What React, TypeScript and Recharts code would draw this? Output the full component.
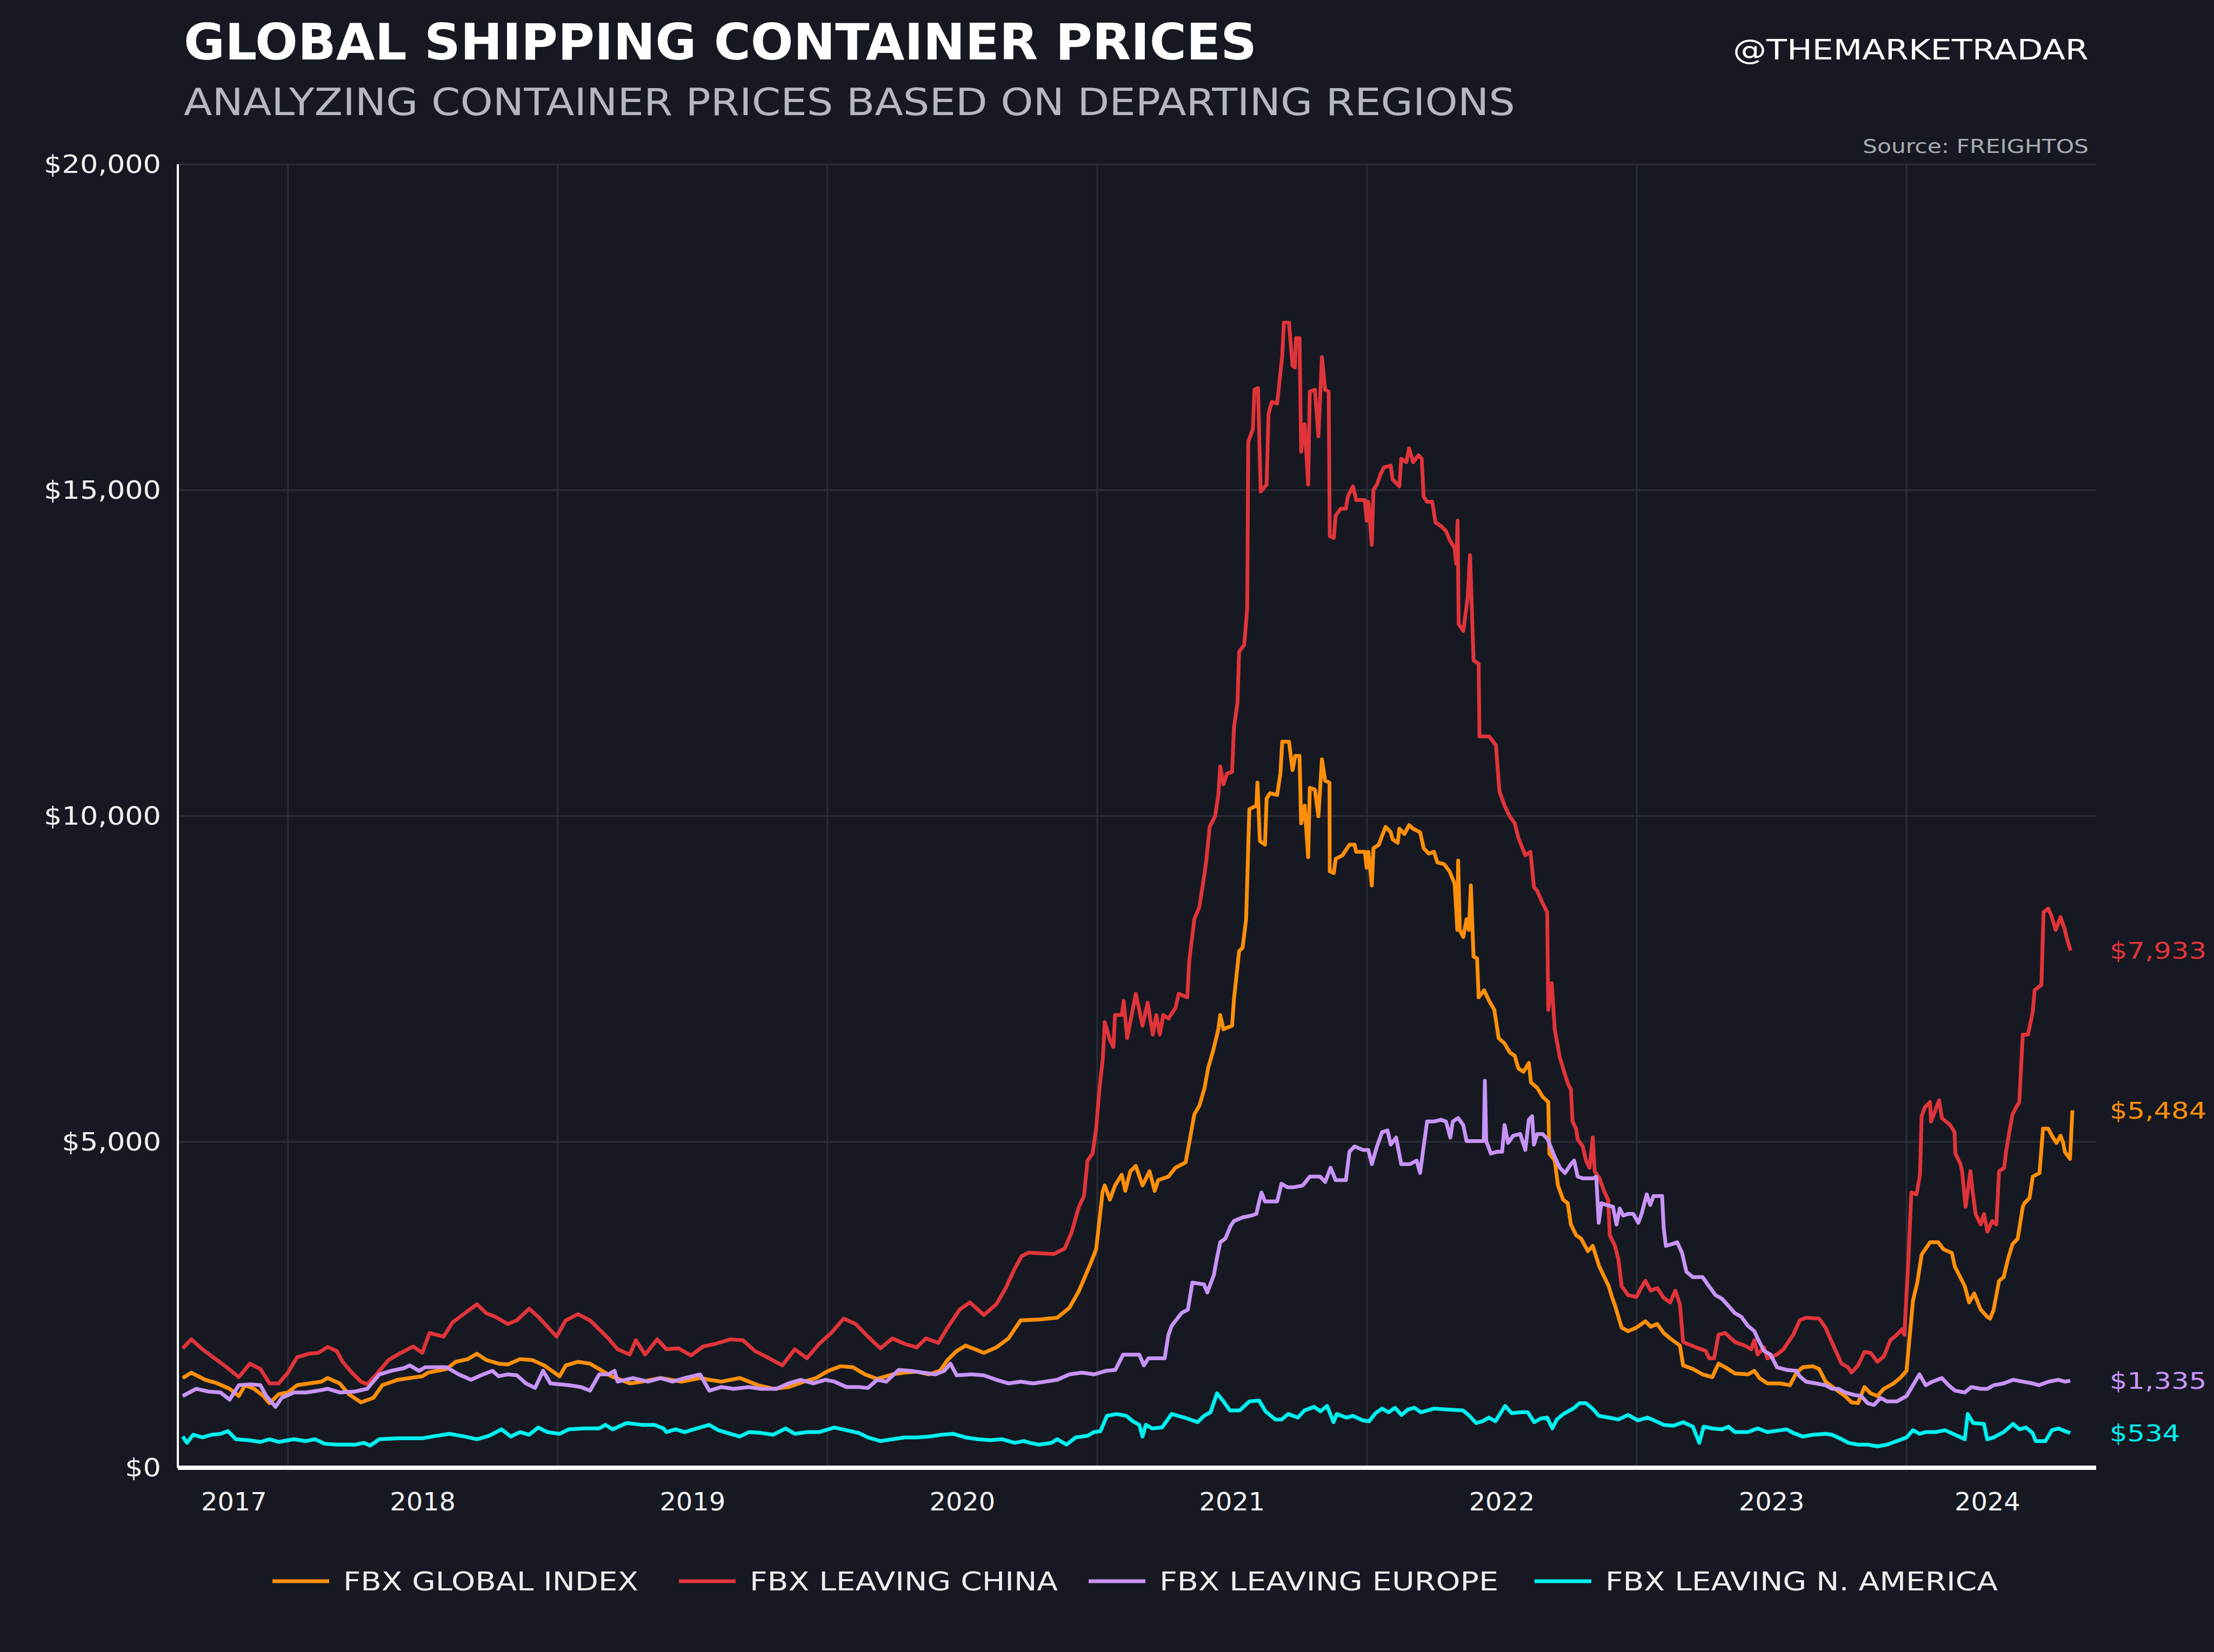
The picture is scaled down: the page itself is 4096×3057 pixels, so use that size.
import React from 'react';
import { LineChart, Line, XAxis, YAxis, CartesianGrid, LabelList } from 'recharts';

// ---------- DATA ----------
const seriesNames = ['FBX GLOBAL INDEX', 'FBX LEAVING CHINA', 'FBX LEAVING EUROPE', 'FBX LEAVING N. AMERICA'];
const seriesColors = ['#ff8f0a', '#e0343a', '#c794f6', '#00f0f0'];
const yTicks = [0, 5000, 10000, 15000, 20000];
const xTickValues = [2017.8, 2018.5, 2019.5, 2020.5, 2021.5, 2022.5, 2023.5, 2024.3];
const xTickLabels = ['2017', '2018', '2019', '2020', '2021', '2022', '2023', '2024'];
const yearGridValues = [2018, 2019, 2020, 2021, 2022, 2023, 2024];
const xDomain = [2017.592, 2024.703];

// [fractional year, USD per FEU]
const globalIndex = [
  [2017.610,1376],[2017.642,1459],[2017.694,1349],[2017.739,1294],[2017.784,1211],[2017.818,1100],[2017.841,1266],[2017.875,1211],[2017.909,1100],[2017.932,990],[2017.966,1128],
  [2018.000,1155],[2018.034,1266],[2018.079,1294],[2018.124,1321],[2018.147,1376],[2018.192,1294],[2018.226,1128],[2018.271,1003],[2018.317,1072],[2018.350,1266],[2018.407,1349],[2018.452,1376],[2018.498,1404],[2018.520,1459],[2018.588,1515],[2018.622,1625],[2018.667,1666],[2018.701,1749],[2018.735,1653],[2018.781,1597],[2018.815,1584],[2018.860,1666],[2018.905,1653],[2018.950,1570],
  [2019.007,1404],[2019.030,1570],[2019.075,1625],[2019.120,1597],[2019.165,1487],[2019.199,1404],[2019.268,1294],[2019.313,1321],[2019.381,1376],[2019.460,1321],[2019.528,1376],[2019.562,1349],[2019.607,1321],[2019.675,1376],[2019.743,1266],[2019.799,1211],[2019.856,1238],[2019.913,1321],[2019.958,1376],
  [2020.003,1487],[2020.048,1556],[2020.094,1542],[2020.139,1432],[2020.184,1363],[2020.241,1432],[2020.286,1459],[2020.331,1473],[2020.377,1432],[2020.417,1487],[2020.445,1653],[2020.479,1791],[2020.512,1874],[2020.547,1818],[2020.580,1763],[2020.626,1846],[2020.671,1984],[2020.716,2261],[2020.784,2274],[2020.852,2302],[2020.897,2454],[2020.931,2703],[2020.954,2924],[2020.977,3150],[2020.996,3351],
  [2021.008,3786],[2021.020,4236],[2021.028,4331],[2021.047,4113],[2021.066,4331],[2021.091,4495],[2021.104,4249],[2021.123,4549],[2021.143,4631],[2021.168,4331],[2021.194,4549],[2021.213,4249],[2021.226,4413],[2021.264,4467],[2021.290,4603],[2021.328,4685],[2021.341,4985],[2021.360,5421],[2021.379,5557],[2021.398,5829],[2021.411,6129],[2021.430,6401],[2021.449,6728],[2021.456,6946],[2021.468,6728],[2021.500,6782],[2021.507,7191],[2021.526,7926],[2021.539,7981],[2021.552,8416],[2021.564,10105],[2021.590,10159],[2021.594,10513],[2021.603,9615],[2021.622,9560],[2021.628,10268],[2021.641,10350],[2021.667,10323],[2021.679,10650],[2021.686,11140],[2021.711,11140],[2021.724,10704],[2021.734,10922],[2021.750,10922],[2021.756,9887],[2021.769,10159],[2021.782,9369],[2021.788,10432],[2021.807,10404],[2021.820,9996],[2021.833,10868],[2021.845,10541],[2021.861,10513],[2021.862,9152],[2021.877,9124],[2021.884,9342],[2021.909,9397],[2021.935,9560],[2021.954,9560],[2021.960,9451],[2021.992,9451],[2021.999,9206],
  [2022.005,9451],[2022.018,8934],[2022.024,9506],[2022.044,9560],[2022.056,9696],[2022.069,9833],[2022.088,9751],[2022.095,9642],[2022.114,9588],[2022.120,9805],[2022.139,9724],[2022.156,9860],[2022.171,9805],[2022.197,9751],[2022.210,9506],[2022.229,9424],[2022.248,9451],[2022.261,9288],[2022.286,9261],[2022.306,9152],[2022.325,8961],[2022.335,8253],[2022.338,9315],[2022.344,8253],[2022.357,8144],[2022.369,8416],[2022.378,8253],[2022.385,8934],[2022.395,7844],[2022.408,7817],[2022.414,7218],[2022.434,7327],[2022.453,7163],[2022.472,7027],[2022.488,6592],[2022.510,6510],[2022.529,6374],[2022.548,6319],[2022.561,6129],[2022.580,6074],[2022.600,6211],[2022.608,5911],[2022.631,5829],[2022.651,5693],[2022.672,5611],[2022.676,4821],[2022.696,4712],[2022.708,4331],[2022.727,4113],[2022.744,4060],[2022.756,3732],[2022.775,3569],[2022.794,3514],[2022.819,3323],[2022.837,3405],[2022.860,3100],[2022.896,2786],[2022.908,2620],[2022.920,2482],[2022.944,2150],[2022.968,2095],[2022.999,2150],
  [2023.032,2247],[2023.052,2164],[2023.076,2205],[2023.100,2067],[2023.124,1984],[2023.160,1874],[2023.172,1570],[2023.208,1515],[2023.244,1432],[2023.280,1390],[2023.303,1597],[2023.328,1542],[2023.364,1446],[2023.412,1432],[2023.436,1487],[2023.455,1376],[2023.484,1294],[2023.532,1294],[2023.568,1266],[2023.592,1459],[2023.616,1542],[2023.652,1556],[2023.676,1515],[2023.700,1321],[2023.735,1211],[2023.772,1100],[2023.796,1003],[2023.820,990],[2023.844,1238],[2023.867,1142],[2023.892,1100],[2023.916,1211],[2023.952,1294],[2023.976,1376],
  [2024.000,1487],[2024.024,2565],[2024.040,2841],[2024.056,3269],[2024.087,3459],[2024.118,3459],[2024.137,3351],[2024.168,3296],[2024.179,3089],[2024.216,2786],[2024.232,2537],[2024.251,2675],[2024.275,2426],[2024.299,2316],[2024.310,2288],[2024.323,2426],[2024.343,2868],[2024.360,2924],[2024.376,3200],[2024.393,3432],[2024.412,3514],[2024.431,4004],[2024.437,4059],[2024.456,4140],[2024.468,4467],[2024.493,4522],[2024.506,5203],[2024.525,5203],[2024.543,5066],[2024.556,4985],[2024.571,5094],[2024.581,4985],[2024.587,4848],[2024.606,4739],[2024.615,5484],
];

const leavingChina = [
  [2017.610,1832],[2017.642,1970],[2017.683,1818],[2017.728,1680],[2017.773,1542],[2017.818,1390],[2017.859,1597],[2017.898,1515],[2017.932,1294],[2017.966,1294],
  [2018.000,1460],[2018.034,1694],[2018.079,1750],[2018.113,1763],[2018.147,1852],[2018.181,1791],[2018.203,1625],[2018.237,1460],[2018.271,1321],[2018.294,1280],[2018.328,1432],[2018.373,1653],[2018.407,1736],[2018.464,1860],[2018.498,1763],[2018.525,2067],[2018.577,2012],[2018.611,2233],[2018.656,2371],[2018.701,2509],[2018.735,2371],[2018.769,2316],[2018.815,2205],[2018.849,2261],[2018.894,2440],[2018.928,2316],[2018.962,2164],[2018.996,2012],
  [2019.030,2261],[2019.075,2357],[2019.120,2261],[2019.154,2122],[2019.188,1984],[2019.222,1818],[2019.267,1736],[2019.290,1957],[2019.324,1736],[2019.369,1970],[2019.403,1818],[2019.448,1832],[2019.494,1722],[2019.539,1860],[2019.584,1901],[2019.641,1970],[2019.686,1957],[2019.731,1791],[2019.777,1694],[2019.833,1570],[2019.879,1818],[2019.924,1680],[2019.969,1901],
  [2020.014,2067],[2020.060,2288],[2020.105,2205],[2020.150,2012],[2020.196,1832],[2020.241,1984],[2020.286,1901],[2020.331,1846],[2020.365,1984],[2020.411,1915],[2020.445,2150],[2020.490,2426],[2020.528,2537],[2020.580,2343],[2020.626,2509],[2020.660,2750],[2020.693,3044],[2020.720,3248],[2020.745,3300],[2020.840,3280],[2020.880,3366],[2020.906,3623],[2020.932,4004],[2020.951,4168],[2020.964,4712],[2020.983,4821],[2020.996,5203],
  [2021.008,5802],[2021.021,6292],[2021.028,6837],[2021.047,6564],[2021.060,6456],[2021.066,6946],[2021.091,6946],[2021.098,7163],[2021.111,6592],[2021.143,7272],[2021.168,6782],[2021.187,7136],[2021.206,6646],[2021.219,6946],[2021.232,6646],[2021.245,6946],[2021.264,6891],[2021.290,7054],[2021.302,7272],[2021.334,7218],[2021.341,7763],[2021.360,8416],[2021.379,8607],[2021.385,8770],[2021.398,9124],[2021.405,9342],[2021.417,9835],[2021.437,9996],[2021.449,10323],[2021.456,10759],[2021.468,10486],[2021.481,10650],[2021.500,10677],[2021.507,11358],[2021.520,11739],[2021.526,12521],[2021.545,12627],[2021.556,13182],[2021.560,15747],[2021.577,15932],[2021.583,16540],[2021.596,16566],[2021.606,14980],[2021.628,15086],[2021.635,16170],[2021.647,16355],[2021.667,16328],[2021.686,17068],[2021.692,17571],[2021.711,17571],[2021.724,16910],[2021.733,16883],[2021.737,17333],[2021.750,17333],[2021.756,15588],[2021.769,16011],[2021.782,15086],[2021.788,16513],[2021.807,16540],[2021.820,15826],[2021.833,17042],[2021.845,16540],[2021.858,16513],[2021.862,14293],[2021.877,14266],[2021.884,14610],[2021.903,14716],[2021.922,14716],[2021.929,14901],[2021.948,15059],[2021.960,14848],[2021.992,14848],[2021.999,14531],
  [2022.005,14822],[2022.018,14161],[2022.024,15007],[2022.037,15086],[2022.050,15244],[2022.063,15350],[2022.088,15377],[2022.095,15165],[2022.120,15059],[2022.127,15482],[2022.146,15429],[2022.156,15641],[2022.171,15429],[2022.191,15535],[2022.203,15482],[2022.210,14901],[2022.223,14822],[2022.242,14822],[2022.254,14504],[2022.274,14451],[2022.293,14372],[2022.306,14240],[2022.325,14108],[2022.331,13870],[2022.336,14531],[2022.340,12945],[2022.357,12839],[2022.373,13341],[2022.382,14002],[2022.389,13156],[2022.395,12389],[2022.414,12336],[2022.417,11222],[2022.453,11222],[2022.478,11085],[2022.491,10377],[2022.510,10159],[2022.529,9996],[2022.548,9887],[2022.561,9669],[2022.587,9397],[2022.606,9451],[2022.619,8907],[2022.631,8852],[2022.651,8661],[2022.668,8525],[2022.672,7027],[2022.685,7436],[2022.696,6728],[2022.715,6292],[2022.744,5900],[2022.756,5802],[2022.762,5312],[2022.775,5203],[2022.781,5039],[2022.800,4930],[2022.812,4712],[2022.825,4603],[2022.837,5066],[2022.844,4549],[2022.862,4440],[2022.881,4222],[2022.894,4113],[2022.900,3569],[2022.919,3405],[2022.932,3198],[2022.944,2786],[2022.968,2647],[2022.999,2620],
  [2023.016,2758],[2023.032,2868],[2023.052,2716],[2023.076,2758],[2023.100,2606],[2023.124,2537],[2023.143,2716],[2023.160,2509],[2023.172,1929],[2023.220,1846],[2023.256,1791],[2023.268,1680],[2023.287,1680],[2023.303,2040],[2023.328,2067],[2023.364,1929],[2023.400,1874],[2023.424,1818],[2023.436,1957],[2023.448,1736],[2023.472,1846],[2023.484,1680],[2023.520,1736],[2023.544,1818],[2023.580,2040],[2023.604,2261],[2023.627,2302],[2023.676,2288],[2023.700,2150],[2023.711,2040],[2023.735,1818],[2023.759,1597],[2023.783,1542],[2023.796,1460],[2023.820,1570],[2023.844,1777],[2023.867,1763],[2023.892,1625],[2023.916,1708],[2023.940,1957],[2023.964,2040],[2023.983,2122],[2023.992,2040],
  [2024.007,3200],[2024.018,4222],[2024.037,4195],[2024.050,4495],[2024.056,5393],[2024.068,5529],[2024.087,5611],[2024.091,5312],[2024.121,5638],[2024.131,5366],[2024.162,5257],[2024.178,5148],[2024.181,4821],[2024.200,4658],[2024.206,4549],[2024.219,4004],[2024.237,4549],[2024.244,4277],[2024.256,3895],[2024.275,3732],[2024.287,3895],[2024.300,3623],[2024.318,3787],[2024.333,3732],[2024.343,4549],[2024.362,4603],[2024.368,4821],[2024.381,5148],[2024.393,5421],[2024.406,5529],[2024.418,5611],[2024.431,6646],[2024.450,6646],[2024.456,6755],[2024.468,6999],[2024.475,7327],[2024.500,7409],[2024.508,8525],[2024.525,8580],[2024.537,8471],[2024.553,8253],[2024.571,8449],[2024.587,8253],[2024.593,8144],[2024.608,7933],
];

const leavingEurope = [
  [2017.610,1100],[2017.660,1211],[2017.705,1169],[2017.750,1155],[2017.784,1045],[2017.818,1266],[2017.864,1280],[2017.898,1266],[2017.920,1100],[2017.954,934],[2017.977,1072],
  [2018.022,1155],[2018.067,1155],[2018.113,1183],[2018.147,1211],[2018.192,1155],[2018.249,1169],[2018.294,1211],[2018.339,1432],[2018.384,1487],[2018.430,1528],[2018.452,1570],[2018.486,1487],[2018.509,1542],[2018.588,1542],[2018.633,1432],[2018.679,1349],[2018.724,1432],[2018.758,1487],[2018.781,1404],[2018.815,1432],[2018.849,1418],[2018.882,1294],[2018.916,1224],[2018.946,1487],[2018.973,1294],
  [2019.041,1266],[2019.086,1238],[2019.120,1183],[2019.154,1432],[2019.188,1432],[2019.211,1487],[2019.222,1321],[2019.279,1376],[2019.335,1321],[2019.381,1376],[2019.426,1321],[2019.471,1376],[2019.528,1432],[2019.562,1183],[2019.607,1238],[2019.652,1211],[2019.709,1238],[2019.754,1211],[2019.811,1211],[2019.856,1294],[2019.901,1349],[2019.947,1294],[2019.992,1349],
  [2020.026,1321],[2020.071,1238],[2020.116,1238],[2020.150,1224],[2020.184,1349],[2020.218,1321],[2020.264,1501],[2020.309,1487],[2020.354,1459],[2020.400,1432],[2020.433,1487],[2020.456,1597],[2020.479,1418],[2020.535,1432],[2020.580,1418],[2020.626,1349],[2020.671,1294],[2020.716,1321],[2020.762,1294],[2020.807,1321],[2020.852,1349],[2020.897,1432],[2020.943,1459],[2020.988,1432],
  [2021.033,1487],[2021.067,1500],[2021.096,1736],[2021.156,1736],[2021.173,1570],[2021.190,1680],[2021.250,1680],[2021.264,2040],[2021.276,2178],[2021.312,2371],[2021.336,2426],[2021.353,2841],[2021.396,2813],[2021.408,2689],[2021.432,2951],[2021.443,3198],[2021.456,3460],[2021.475,3514],[2021.494,3705],[2021.507,3786],[2021.539,3841],[2021.571,3868],[2021.590,3895],[2021.599,4059],[2021.609,4222],[2021.622,4086],[2021.667,4086],[2021.683,4358],[2021.705,4304],[2021.730,4304],[2021.762,4331],[2021.788,4467],[2021.826,4467],[2021.845,4385],[2021.865,4603],[2021.884,4413],[2021.922,4413],[2021.935,4849],[2021.954,4930],[2021.986,4876],
  [2022.005,4876],[2022.018,4658],[2022.037,4930],[2022.056,5148],[2022.076,5175],[2022.088,4958],[2022.108,5066],[2022.127,4658],[2022.159,4658],[2022.184,4712],[2022.197,4522],[2022.210,4930],[2022.223,5312],[2022.248,5312],[2022.274,5339],[2022.293,5312],[2022.309,5066],[2022.318,5312],[2022.338,5366],[2022.357,5257],[2022.369,5012],[2022.433,5012],[2022.437,5938],[2022.442,5012],[2022.459,4821],[2022.484,4849],[2022.501,4849],[2022.510,5257],[2022.523,4985],[2022.542,5094],[2022.568,5121],[2022.587,4876],[2022.600,5339],[2022.612,5393],[2022.619,4958],[2022.631,5121],[2022.651,5121],[2022.670,5039],[2022.696,4767],[2022.715,4603],[2022.734,4522],[2022.756,4658],[2022.768,4712],[2022.781,4467],[2022.800,4440],[2022.837,4440],[2022.850,4467],[2022.859,3759],[2022.869,4059],[2022.887,4032],[2022.912,4004],[2022.925,3732],[2022.937,3977],[2022.950,3868],[2022.968,3895],[2022.987,3895],
  [2023.006,3759],[2023.018,3895],[2023.037,4195],[2023.050,4032],[2023.062,4168],[2023.094,4168],[2023.100,3678],[2023.108,3405],[2023.131,3432],[2023.150,3459],[2023.168,3296],[2023.184,3007],[2023.208,2924],[2023.244,2924],[2023.263,2813],[2023.292,2647],[2023.316,2592],[2023.340,2482],[2023.364,2371],[2023.388,2316],[2023.412,2178],[2023.436,2095],[2023.448,1984],[2023.472,1791],[2023.496,1736],[2023.520,1542],[2023.556,1501],[2023.592,1487],[2023.604,1404],[2023.627,1321],[2023.664,1294],[2023.700,1266],[2023.724,1211],[2023.748,1211],[2023.772,1155],[2023.808,1114],[2023.832,1100],[2023.856,990],[2023.879,962],[2023.904,1072],[2023.928,1017],[2023.964,1017],
  [2024.000,1100],[2024.024,1266],[2024.048,1432],[2024.071,1266],[2024.096,1321],[2024.131,1376],[2024.156,1266],[2024.180,1183],[2024.216,1155],[2024.240,1238],[2024.276,1211],[2024.300,1211],[2024.323,1266],[2024.360,1294],[2024.395,1349],[2024.432,1321],[2024.467,1294],[2024.491,1266],[2024.527,1321],[2024.563,1349],[2024.587,1321],[2024.607,1335],
];

const leavingNAmerica = [
  [2017.610,478],[2017.626,382],[2017.649,506],[2017.683,465],[2017.717,506],[2017.750,520],[2017.778,561],[2017.807,437],[2017.852,423],[2017.898,396],[2017.932,437],[2017.966,396],
  [2018.022,437],[2018.067,409],[2018.101,437],[2018.136,368],[2018.181,354],[2018.249,354],[2018.282,382],[2018.305,340],[2018.339,437],[2018.407,451],[2018.498,451],[2018.554,492],[2018.599,520],[2018.656,478],[2018.701,437],[2018.747,492],[2018.792,589],[2018.826,478],[2018.860,547],[2018.894,506],[2018.928,617],[2018.962,547],
  [2019.007,520],[2019.041,589],[2019.098,603],[2019.154,603],[2019.177,658],[2019.204,589],[2019.256,686],[2019.313,658],[2019.358,658],[2019.392,603],[2019.403,547],[2019.437,589],[2019.471,547],[2019.505,589],[2019.562,658],[2019.596,575],[2019.641,520],[2019.675,478],[2019.709,547],[2019.754,534],[2019.799,506],[2019.845,603],[2019.879,520],[2019.924,547],[2019.969,547],
  [2020.026,617],[2020.071,575],[2020.116,534],[2020.150,465],[2020.196,409],[2020.241,437],[2020.286,465],[2020.331,465],[2020.377,478],[2020.422,506],[2020.467,520],[2020.512,465],[2020.558,437],[2020.603,423],[2020.648,437],[2020.694,382],[2020.728,409],[2020.750,382],[2020.784,354],[2020.830,382],[2020.852,437],[2020.886,354],[2020.920,465],[2020.965,492],[2020.988,547],
  [2021.012,560],[2021.036,796],[2021.072,824],[2021.108,796],[2021.132,713],[2021.156,658],[2021.168,478],[2021.180,658],[2021.204,603],[2021.240,617],[2021.276,824],[2021.324,769],[2021.372,699],[2021.396,796],[2021.420,851],[2021.444,1142],[2021.468,1017],[2021.492,879],[2021.528,879],[2021.564,1017],[2021.600,1031],[2021.624,865],[2021.660,741],[2021.684,741],[2021.708,824],[2021.744,769],[2021.768,879],[2021.804,934],[2021.828,865],[2021.852,948],[2021.876,699],[2021.888,824],[2021.924,769],[2021.948,796],[2021.984,727],
  [2022.008,713],[2022.032,838],[2022.056,907],[2022.080,851],[2022.104,920],[2022.128,810],[2022.152,893],[2022.176,920],[2022.200,851],[2022.248,907],[2022.296,893],[2022.356,879],[2022.380,796],[2022.404,686],[2022.428,713],[2022.452,769],[2022.476,713],[2022.512,948],[2022.536,838],[2022.572,851],[2022.596,851],[2022.620,699],[2022.644,755],[2022.668,769],[2022.687,603],[2022.704,741],[2022.728,824],[2022.764,907],[2022.788,990],[2022.812,990],[2022.836,907],[2022.860,796],[2022.896,769],[2022.932,741],[2022.968,810],
  [2023.004,727],[2023.040,769],[2023.064,727],[2023.100,658],[2023.136,644],[2023.172,699],[2023.208,630],[2023.232,382],[2023.248,630],[2023.280,603],[2023.316,589],[2023.340,630],[2023.364,547],[2023.412,547],[2023.448,603],[2023.484,547],[2023.532,575],[2023.556,589],[2023.580,534],[2023.616,478],[2023.652,506],[2023.700,520],[2023.724,506],[2023.760,437],[2023.784,382],[2023.820,354],[2023.856,354],[2023.892,327],[2023.928,354],[2023.964,409],
  [2024.000,465],[2024.024,575],[2024.048,520],[2024.071,547],[2024.107,547],[2024.143,575],[2024.180,506],[2024.216,437],[2024.227,824],[2024.247,686],[2024.287,672],[2024.299,437],[2024.323,465],[2024.360,547],[2024.395,672],[2024.419,589],[2024.443,617],[2024.467,534],[2024.479,409],[2024.515,409],[2024.539,575],[2024.563,603],[2024.587,561],[2024.607,534],
];

const allSeries = [globalIndex, leavingChina, leavingEurope, leavingNAmerica];

// ---------- STYLE ----------
const FONT = '"DejaVu Sans", "Noto Sans", sans-serif';
const BG = '#161922';
const GRID = '#2b2e39';

const toRows = (pairs) => pairs.map(([t, v]) => ({ t, v }));
const fmtMoney = (v) => '$' + Number(v).toLocaleString('en-US');
const numWidth = (s, fs, k) => {
  let w = 0;
  for (const c of s) w += c === ',' || c === '.' ? 0.318 : 0.636;
  return w * fs * k;
};

const YTick = (props) => {
  const { x, y, payload } = props;
  const s = fmtMoney(payload.value);
  return (
    <text x={x} y={y} dy="0.355em" textAnchor="end" fill="#f2f2f2" fontSize={46} fontFamily={FONT}
      textLength={numWidth(s, 46, 1.14)} lengthAdjust="spacingAndGlyphs">{s}</text>
  );
};

const XTick = (props) => {
  const { x, y, payload } = props;
  const idx = xTickValues.indexOf(payload.value);
  const s = idx >= 0 ? xTickLabels[idx] : String(Math.floor(payload.value));
  return (
    <text x={x} y={y} dy="0.71em" textAnchor="middle" fill="#f2f2f2" fontSize={46} fontFamily={FONT}
      textLength={numWidth(s, 46, 1.04)} lengthAdjust="spacingAndGlyphs">{s}</text>
  );
};

const makeEndLabel = (color, lastIndex, text) => (props) => {
  if (props.index !== lastIndex) return null;
  const vb = props.viewBox || {};
  const y = vb.y !== undefined ? vb.y : props.y;
  return (
    <text x={3903} y={y} dy="0.355em" textAnchor="start" fill={color} fontSize={42} fontFamily={FONT}
      textLength={numWidth(text, 42, 1.22)} lengthAdjust="spacingAndGlyphs">{text}</text>
  );
};

const legendTextX = [635, 1387, 2145, 2970];
const legendTextLen = [546, 570, 627, 726];

export default function App() {
  return (
    <div style={{ position: 'absolute', left: 0, top: 0, width: 4096, height: 3057, background: BG, overflow: 'hidden' }}>
      <LineChart width={4096} height={3057} margin={{ top: 304, right: 218, bottom: 0, left: 0 }}>
        <CartesianGrid stroke={GRID} strokeWidth={3} verticalValues={yearGridValues} horizontalValues={yTicks} />
        <XAxis type="number" dataKey="t" domain={xDomain} ticks={xTickValues} allowDataOverflow
          height={341} axisLine={{ stroke: '#ffffff', strokeWidth: 8 }} tickLine={false} tickSize={0} tickMargin={46}
          tick={<XTick />} interval={0} />
        <YAxis type="number" domain={[0, 20000]} ticks={yTicks} width={329}
          axisLine={{ stroke: '#ffffff', strokeWidth: 4 }} tickLine={false} tickSize={0} tickMargin={31}
          tick={<YTick />} interval={0} />
        {allSeries.map((s, i) => {
          const rows = toRows(s);
          const last = rows.length - 1;
          return (
            <Line key={seriesNames[i]} name={seriesNames[i]} data={rows} dataKey="v" type="linear"
              stroke={seriesColors[i]} strokeWidth={7} strokeLinejoin="round" dot={false} activeDot={false}
              isAnimationActive={false}>
              <LabelList dataKey="v" content={makeEndLabel(seriesColors[i], last, fmtMoney(rows[last].v))} />
            </Line>
          );
        })}
      </LineChart>
      <svg width={4096} height={3057} style={{ position: 'absolute', left: 0, top: 0, pointerEvents: 'none' }}>
        <text x={340} y={110} fill="#ffffff" fontSize={92} fontWeight="bold" fontFamily={FONT}
          textLength={1985} lengthAdjust="spacingAndGlyphs">GLOBAL SHIPPING CONTAINER PRICES</text>
        <text x={3864} y={110} textAnchor="end" fill="#ffffff" fontSize={51} fontFamily={FONT}
          textLength={658} lengthAdjust="spacingAndGlyphs">@THEMARKETRADAR</text>
        <text x={340} y={213} fill="#b5b8be" fontSize={69} fontFamily={FONT}
          textLength={2463} lengthAdjust="spacingAndGlyphs">ANALYZING CONTAINER PRICES BASED ON DEPARTING REGIONS</text>
        <text x={3864} y={283} textAnchor="end" fill="#a9acb2" fontSize={36} fontFamily={FONT}
          textLength={418} lengthAdjust="spacingAndGlyphs">Source: FREIGHTOS</text>
        {seriesNames.map((n, i) => (
          <g key={n}>
            <line x1={legendTextX[i] - 131} x2={legendTextX[i] - 26} y1={2926} y2={2926}
              stroke={seriesColors[i]} strokeWidth={7} />
            <text x={legendTextX[i]} y={2943} fill="#eeeeee" fontSize={48} fontFamily={FONT}
              textLength={legendTextLen[i]} lengthAdjust="spacingAndGlyphs">{n}</text>
          </g>
        ))}
      </svg>
    </div>
  );
}
